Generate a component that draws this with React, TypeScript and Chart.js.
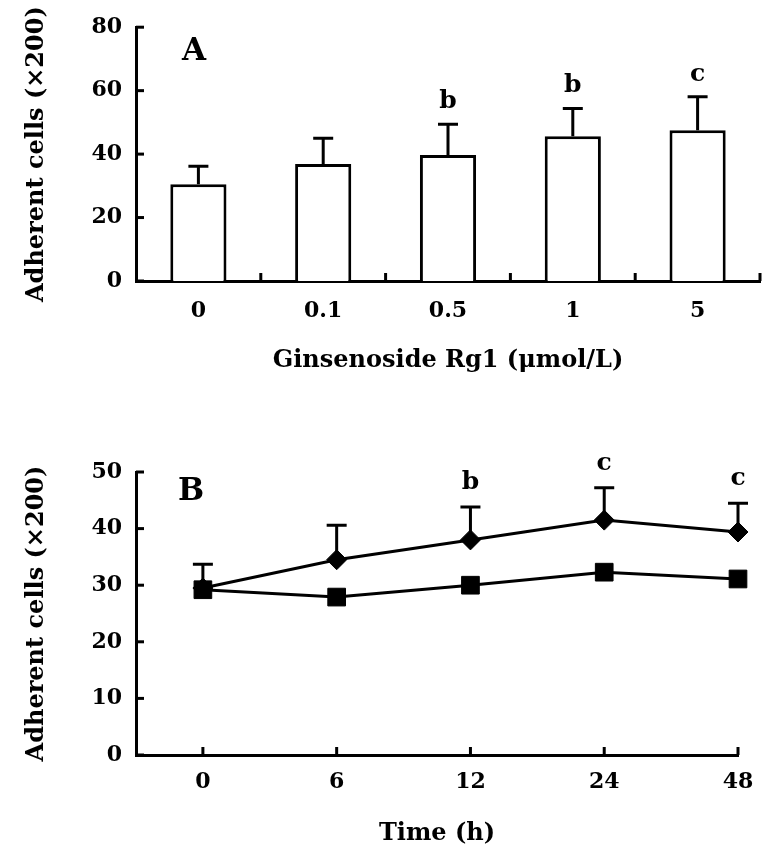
import React, { useEffect, useRef } from 'react';
import { Chart, registerables } from 'chart.js';

Chart.register(...registerables);

// ---- Panel A data ----
const doseLabels = ['0', '0.1', '0.5', '1', '5'];
const doseMeans = [30.5, 36.9, 39.7, 45.6, 47.5];
const doseSD = [5.7, 8.1, 9.7, 8.8, 10.6];
const doseSig = ['', '', 'b', 'b', 'c'];

// ---- Panel B data ----
const timeLabels = ['0', '6', '12', '24', '48'];
const rg1Means = [29.5, 34.5, 38.0, 41.5, 39.4];
const rg1SD = [4.2, 6.1, 5.8, 5.7, 5.1];
const rg1Sig = ['', '', 'b', 'c', 'c'];
const controlMeans = [29.2, 27.9, 30.0, 32.3, 31.1];

const FONT = '"DejaVu Serif", "Liberation Serif", serif';
const Y_TITLE = 'Adherent cells (×200)';

const errorBarPlugin = {
  id: 'errorBars',
  afterDatasetsDraw(chart: any, _args: any, opts: any) {
    if (!opts || !opts.sd) return;
    const meta = chart.getDatasetMeta(opts.datasetIndex);
    const data = chart.data.datasets[opts.datasetIndex].data;
    const yScale = chart.scales.y;
    const ctx = chart.ctx;
    ctx.save();
    ctx.strokeStyle = '#000';
    ctx.fillStyle = '#000';
    ctx.lineWidth = opts.lineWidth;
    ctx.font = `bold ${opts.sigSize}px ${FONT}`;
    ctx.textAlign = 'center';
    ctx.textBaseline = 'alphabetic';
    meta.data.forEach((el: any, i: number) => {
      const d = data[i];
      const v = typeof d === 'number' ? d : d.y;
      const yBase = yScale.getPixelForValue(v);
      const yTop = yScale.getPixelForValue(v + opts.sd[i]);
      ctx.beginPath();
      ctx.moveTo(el.x, yBase);
      ctx.lineTo(el.x, yTop);
      ctx.moveTo(el.x - opts.cap / 2, yTop);
      ctx.lineTo(el.x + opts.cap / 2, yTop);
      ctx.stroke();
      if (opts.sig && opts.sig[i]) ctx.fillText(opts.sig[i], el.x, yTop - opts.sigGap);
    });
    ctx.restore();
  },
};

const innerTicksPlugin = {
  id: 'innerTicks',
  afterDraw(chart: any, _args: any, opts: any) {
    const { ctx, chartArea, scales } = chart;
    ctx.save();
    ctx.strokeStyle = '#000';
    ctx.lineWidth = opts.width;
    const ys = scales.y;
    ys.ticks.forEach((t: any) => {
      const y = ys.getPixelForValue(t.value);
      ctx.beginPath();
      ctx.moveTo(chartArea.left, y);
      ctx.lineTo(chartArea.left + opts.len, y);
      ctx.stroke();
    });
    const xs = scales.x;
    let xVals: number[];
    if (opts.boundaries) {
      xVals = [];
      for (let i = 1; i <= xs.ticks.length; i++) xVals.push(i - 0.5);
    } else {
      xVals = xs.ticks.map((t: any) => t.value);
    }
    xVals.forEach((v) => {
      const x = xs.getPixelForValue(v);
      ctx.beginPath();
      ctx.moveTo(x, chartArea.bottom);
      ctx.lineTo(x, chartArea.bottom - opts.len);
      ctx.stroke();
    });
    ctx.restore();
  },
};

const panelTextPlugin = {
  id: 'panelText',
  afterDraw(chart: any, _args: any, opts: any) {
    const { ctx, chartArea } = chart;
    ctx.save();
    ctx.fillStyle = '#000';
    ctx.font = `bold ${opts.size}px ${FONT}`;
    ctx.textAlign = 'left';
    ctx.textBaseline = 'alphabetic';
    ctx.fillText(opts.label, chartArea.left + opts.dx, chartArea.top + opts.dy);
    ctx.restore();
  },
};

const tickFont = { family: FONT, size: 22, weight: 'bold' };
const titleFont = { family: FONT, size: 24, weight: 'bold' };

function BarPanel() {
  const ref = useRef<HTMLCanvasElement>(null);
  useEffect(() => {
    const chart = new Chart(ref.current as HTMLCanvasElement, {
      type: 'bar',
      data: {
        labels: doseLabels,
        datasets: [
          {
            data: doseMeans,
            backgroundColor: '#ffffff',
            borderColor: '#000000',
            borderWidth: 3,
            barPercentage: 0.45,
            categoryPercentage: 1,
          },
        ],
      },
      options: {
        responsive: false,
        animation: false,
        layout: { padding: { top: 25, right: 8, left: 0, bottom: 0 } },
        plugins: {
          legend: { display: false },
          tooltip: { enabled: false },
          errorBars: { datasetIndex: 0, sd: doseSD, sig: doseSig, cap: 20, lineWidth: 3, sigSize: 25, sigGap: 16 },
          innerTicks: { width: 3, len: 8, boundaries: true },
          panelText: { label: 'A', size: 31, dx: 46, dy: 33 },
        } as any,
        scales: {
          x: {
            type: 'category',
            grid: { display: false, drawTicks: false },
            border: { display: true, color: '#000', width: 3 },
            ticks: { color: '#000', font: tickFont, padding: 17 },
            title: {
              display: true,
              text: 'Ginsenoside Rg1 (μmol/L)',
              color: '#000',
              font: titleFont,
              padding: { top: 0, bottom: 25 },
            },
            afterFit: (s: any) => { s.height = 119; },
          },
          y: {
            min: 0,
            max: 80,
            grid: { display: false, drawTicks: false },
            border: { display: true, color: '#000', width: 3 },
            ticks: { stepSize: 20, color: '#000', font: tickFont, padding: 14 },
            title: {
              display: true,
              text: Y_TITLE,
              color: '#000',
              font: titleFont,
              padding: { top: 22, bottom: 0 },
            },
            afterFit: (s: any) => { s.width = 136; },
          },
        },
      },
      plugins: [errorBarPlugin, innerTicksPlugin, panelTextPlugin],
    } as any);
    return () => chart.destroy();
  }, []);
  return <canvas ref={ref} width={768} height={400} style={{ display: 'block', width: 768, height: 400 }} />;
}

function LinePanel() {
  const ref = useRef<HTMLCanvasElement>(null);
  useEffect(() => {
    const chart = new Chart(ref.current as HTMLCanvasElement, {
      type: 'line',
      data: {
        datasets: [
          {
            data: rg1Means.map((v, i) => ({ x: i, y: v })),
            borderColor: '#000',
            backgroundColor: '#000',
            borderWidth: 3,
            pointStyle: 'rectRot',
            pointRadius: 10,
            pointBackgroundColor: '#000',
            pointBorderColor: '#000',
            pointBorderWidth: 1,
            tension: 0,
            clip: false,
          },
          {
            data: controlMeans.map((v, i) => ({ x: i, y: v })),
            borderColor: '#000',
            backgroundColor: '#000',
            borderWidth: 3,
            pointStyle: 'rect',
            pointRadius: 12.5,
            pointBackgroundColor: '#000',
            pointBorderColor: '#000',
            pointBorderWidth: 1,
            tension: 0,
            clip: false,
          },
        ],
      },
      options: {
        responsive: false,
        animation: false,
        layout: { padding: { top: 72, right: 30, left: 0, bottom: 0 } },
        plugins: {
          legend: { display: false },
          tooltip: { enabled: false },
          errorBars: { datasetIndex: 0, sd: rg1SD, sig: rg1Sig, cap: 20, lineWidth: 3, sigSize: 25, sigGap: 18 },
          innerTicks: { width: 3, len: 8, boundaries: false },
          panelText: { label: 'B', size: 31, dx: 42, dy: 28 },
        } as any,
        scales: {
          x: {
            type: 'linear',
            min: -0.5,
            max: 4,
            grid: { display: false, drawTicks: false },
            border: { display: true, color: '#000', width: 3 },
            afterBuildTicks: (s: any) => { s.ticks = timeLabels.map((_, i) => ({ value: i })); },
            ticks: {
              color: '#000',
              font: tickFont,
              padding: 14,
              callback: (v: any) => timeLabels[v] ?? '',
            },
            title: {
              display: true,
              text: 'Time (h)',
              color: '#000',
              font: titleFont,
              padding: { top: 0, bottom: 12 },
            },
            afterFit: (s: any) => { s.height = 105; },
          },
          y: {
            min: 0,
            max: 50,
            grid: { display: false, drawTicks: false },
            border: { display: true, color: '#000', width: 3 },
            ticks: { stepSize: 10, color: '#000', font: tickFont, padding: 14 },
            title: {
              display: true,
              text: Y_TITLE,
              color: '#000',
              font: titleFont,
              padding: { top: 22, bottom: 0 },
            },
            afterFit: (s: any) => { s.width = 136; },
          },
        },
      },
      plugins: [errorBarPlugin, innerTicksPlugin, panelTextPlugin],
    } as any);
    return () => chart.destroy();
  }, []);
  return <canvas ref={ref} width={768} height={460} style={{ display: 'block', width: 768, height: 460 }} />;
}

export default function App() {
  return (
    <div style={{ position: 'absolute', left: 0, top: 0, width: 768, height: 860, background: '#fff' }}>
      <BarPanel />
      <LinePanel />
    </div>
  );
}
